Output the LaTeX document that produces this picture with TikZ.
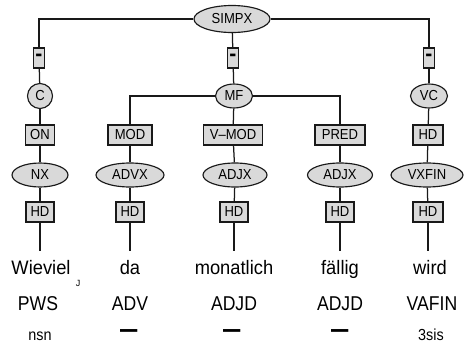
\documentclass[tikz,border=0pt]{standalone}
\usepackage{fontspec}
\usepackage{graphicx}
\setmainfont{Liberation Sans}
\newfontfamily\labfont[FakeStretch=0.9]{Liberation Sans}
\newfontfamily\wrdfont[FakeStretch=0.94]{Liberation Sans}
\newfontfamily\tagfont[FakeStretch=0.88]{Liberation Sans}
\usetikzlibrary{shapes.geometric}
\definecolor{nodegray}{gray}{0.85}
\newcommand{\thickdash}{\smash{\scalebox{1.2}[2.6]{—}}}
\newcommand{\boxdash}{\scalebox{0.9}[2.2]{–}}
\tikzset{
  x=1pt, y=-1pt,
  edge/.style={line width=1.25pt, draw=black!90},
  lab/.style={font=\labfont\fontsize{14.5}{15}\selectfont},
  fbox/.style={lab, draw=black!90, line width=1.15pt, fill=nodegray, rectangle, minimum height=20pt, inner sep=0pt},
  dashbox/.style={draw=black!90, line width=1.15pt, fill=nodegray, rectangle, minimum height=20pt, minimum width=11pt, inner sep=0pt, font=\fontsize{12}{14}\selectfont\bfseries},
  cat/.style={lab, draw=black!90, line width=1.15pt, fill=nodegray, ellipse, inner sep=0pt, minimum height=24pt},
  wordtag/.style={font=\wrdfont\fontsize{19.5}{22}\selectfont, anchor=base, inner sep=0pt},
  postag/.style={font=\tagfont\fontsize{20}{22}\selectfont, anchor=base, inner sep=0pt},
  morphtag/.style={font=\labfont\fontsize{16}{18}\selectfont, anchor=base, inner sep=0pt},
  dashtag/.style={font=\labfont\fontsize{16}{18}\selectfont, anchor=base, inner sep=0pt},
}
\begin{document}
\begin{tikzpicture}
\useasboundingbox (0,0) rectangle (464,343);
% top
\node[cat, minimum width=76pt, minimum height=27pt] (simpx) at (232,19) {SIMPX};
\node[dashbox] (d1) at (39,58) {\boxdash};
\node[dashbox] (d2) at (233,58) {\boxdash};
\node[dashbox] (d3) at (429,58) {\boxdash};
\node[cat, minimum width=25pt, minimum height=25pt] (c) at (40,96) {C};
\node[cat, minimum width=37pt] (mf) at (234,96) {MF};
\node[cat, minimum width=37pt] (vc) at (429,96) {VC};
% function boxes
\node[fbox, minimum width=29pt] (on) at (40,135) {ON};
\node[fbox, minimum width=44pt] (mod) at (130,135) {MOD};
\node[fbox, minimum width=59pt] (vmod) at (233,135) {V–MOD};
\node[fbox, minimum width=50pt] (pred) at (340,135) {PRED};
\node[fbox, minimum width=30pt] (hd0) at (428,135) {HD};
% phrases
\node[cat, minimum width=56pt] (nx) at (40,175) {NX};
\node[cat, minimum width=68pt] (advx) at (130,175) {ADVX};
\node[cat, minimum width=64pt] (adjx1) at (235,175) {ADJX};
\node[cat, minimum width=65pt] (adjx2) at (340,175) {ADJX};
\node[cat, minimum width=72pt] (vxfin) at (427,175) {VXFIN};
% heads
\node[fbox, minimum width=28pt] (hd1) at (40,212) {HD};
\node[fbox, minimum width=28pt] (hd2) at (130,212) {HD};
\node[fbox, minimum width=28pt] (hd3) at (234,212) {HD};
\node[fbox, minimum width=28pt] (hd4) at (340,212) {HD};
\node[fbox, minimum width=30pt] (hd5) at (428,212) {HD};
% words
\node[wordtag] (w1) at (41,274) {Wieviel};
\node[wordtag] (w2) at (130,274) {da};
\node[wordtag] (w3) at (234,274) {monatlich};
\node[wordtag] (w4) at (340,274) {fällig};
\node[wordtag] (w5) at (430,274) {wird};
\node[font=\fontsize{9}{10}\selectfont, inner sep=0pt] (j) at (78,283) {J};
\node[postag] (p1) at (38,310) {PWS};
\node[postag] (p2) at (130,310) {ADV};
\node[postag] (p3) at (234,310) {ADJD};
\node[postag] (p4) at (340,310) {ADJD};
\node[postag] (p5) at (432,310) {VAFIN};
\node[morphtag] (m1) at (40,340) {nsn};
\node[dashtag] (m2) at (129,341) {\thickdash};
\node[dashtag] (m3) at (232,341) {\thickdash};
\node[dashtag] (m4) at (340,341) {\thickdash};
\node[morphtag] (m5) at (431,340) {3sis};
% edges
\draw[edge] (simpx.west) -| (d1.north);
\draw[edge] (simpx.east) -| (d3.north);
\draw[edge] (simpx) -- (d2);
\draw[edge] (d1) -- (c);
\draw[edge] (d2) -- (mf);
\draw[edge] (d3) -- (vc);
\draw[edge] (mf.west) -| (mod.north);
\draw[edge] (mf.east) -| (pred.north);
\draw[edge] (mf) -- (vmod);
\draw[edge] (c) -- (on);
\draw[edge] (vc) -- (hd0);
\draw[edge] (on) -- (nx);
\draw[edge] (mod) -- (advx);
\draw[edge] (vmod) -- (adjx1);
\draw[edge] (pred) -- (adjx2);
\draw[edge] (hd0) -- (vxfin);
\draw[edge] (nx) -- (hd1);
\draw[edge] (advx) -- (hd2);
\draw[edge] (adjx1) -- (hd3);
\draw[edge] (adjx2) -- (hd4);
\draw[edge] (vxfin) -- (hd5);
\draw[edge, shorten >=9pt] (hd1.south) -- (hd1.south |- w1.north);
\draw[edge, shorten >=9pt] (hd2.south) -- (hd2.south |- w2.north);
\draw[edge, shorten >=9pt] (hd3.south) -- (hd3.south |- w3.north);
\draw[edge, shorten >=9pt] (hd4.south) -- (hd4.south |- w4.north);
\draw[edge, shorten >=9pt] (hd5.south) -- (hd5.south |- w5.north);
\end{tikzpicture}
\end{document}
